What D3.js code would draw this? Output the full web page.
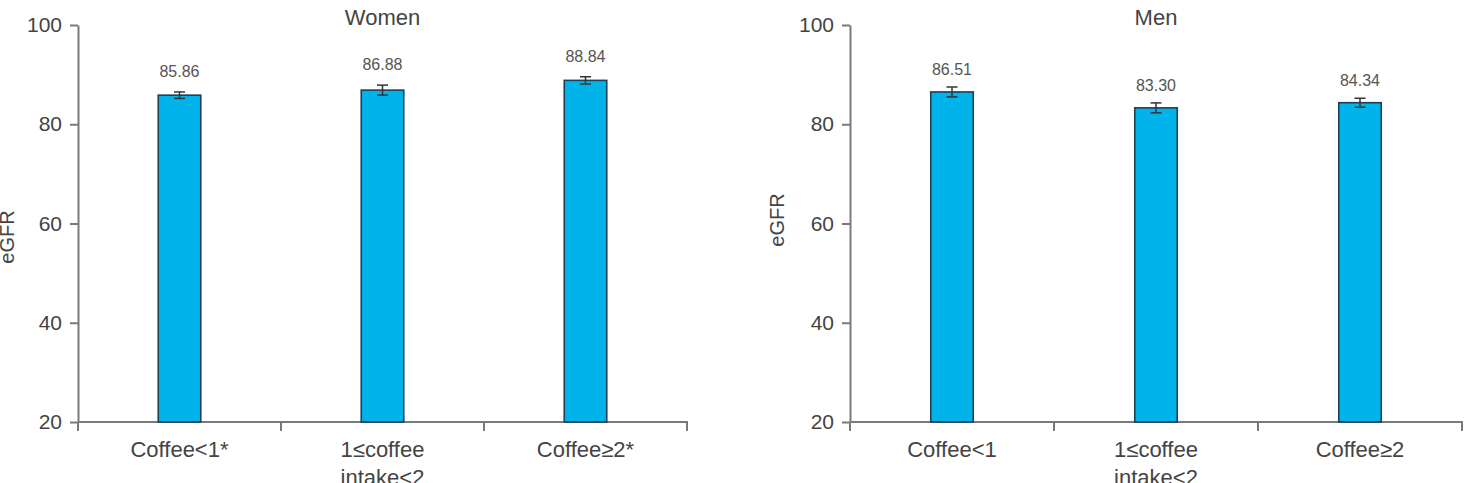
<!DOCTYPE html>
<html>
<head>
<meta charset="utf-8">
<script src="https://cdn.jsdelivr.net/npm/d3@7"></script>
<style>
  html, body { margin: 0; padding: 0; background: #fff; }
  svg { display: block; font-family: "Liberation Sans", Arial, sans-serif; }
</style>
</head>
<body>
<svg id="chart" width="1468" height="483"></svg>
<script>
// ---- data ----
const womenCategories = ["Coffee<1*", "1≤coffee|intake<2", "Coffee≥2*"];
const womenValues = [85.86, 86.88, 88.84];
const womenErrors = [0.65, 1.0, 0.73];
const menCategories = ["Coffee<1", "1≤coffee|intake<2", "Coffee≥2"];
const menValues = [86.51, 83.30, 84.34];
const menErrors = [1.0, 1.0, 0.9];
const yTicks = [20, 40, 60, 80, 100];
const titles = ["Women", "Men"];
const yLabel = "eGFR";

const svg = d3.select("#chart");
const axisColor = "#7a7a7a";
const textColor = "#444";

function drawPanel(opts) {
  const { x0, x1, cats, vals, errs, title, labelX, labelY, labelOffset } = opts;
  const yTop = 25, yBot = 422;
  const y = d3.scaleLinear().domain([20, 100]).range([yBot, yTop]);
  const x = d3.scaleBand().domain(cats).range([x0, x1]).paddingInner(0).paddingOuter(0);
  const barW = 42.5;
  const g = svg.append("g");

  // y axis
  const yAxis = g.append("g")
    .attr("transform", `translate(${x0},0)`)
    .call(d3.axisLeft(y).tickValues(yTicks).tickSize(8).tickSizeOuter(0).tickPadding(8).tickFormat(d3.format("d")));
  yAxis.select(".domain").attr("stroke", axisColor).attr("stroke-width", 2);
  yAxis.selectAll(".tick line").attr("stroke", axisColor).attr("stroke-width", 2);
  yAxis.selectAll(".tick text").attr("fill", textColor).style("font-size", "21px");

  // x axis line
  g.append("line")
    .attr("x1", x0).attr("x2", x1 + 1).attr("y1", yBot).attr("y2", yBot)
    .attr("stroke", axisColor).attr("stroke-width", 2);
  // boundary ticks
  const bounds = d3.range(cats.length + 1).map(i => x0 + i * x.step());
  g.selectAll(".bt").data(bounds).join("line")
    .attr("x1", d => d).attr("x2", d => d)
    .attr("y1", yBot).attr("y2", yBot + 9)
    .attr("stroke", axisColor).attr("stroke-width", 2);

  // x labels
  const xl = g.selectAll(".xl").data(cats).join("text")
    .attr("text-anchor", "middle")
    .attr("fill", textColor)
    .style("font-size", "22px")
    .attr("x", d => x(d) + x.bandwidth() / 2)
    .attr("y", 457);
  xl.each(function(d) {
    const parts = d.split("|");
    const t = d3.select(this);
    parts.forEach((p, i) => {
      t.append("tspan").attr("x", x(d) + x.bandwidth() / 2).attr("dy", i === 0 ? 0 : 28).text(p);
    });
  });

  // bars
  g.selectAll(".bar").data(vals).join("rect")
    .attr("x", (d, i) => x(cats[i]) + x.bandwidth() / 2 - barW / 2)
    .attr("width", barW)
    .attr("y", d => y(d))
    .attr("height", d => y(20) - y(d))
    .attr("fill", "#00b4eb")
    .attr("stroke", "#1f3f52")
    .attr("stroke-width", 1.6);

  // error bars
  const capW = 11;
  vals.forEach((v, i) => {
    const cx = x(cats[i]) + x.bandwidth() / 2;
    const e = errs[i];
    g.append("line").attr("x1", cx).attr("x2", cx).attr("y1", y(v + e)).attr("y2", y(v - e))
      .attr("stroke", "#333").attr("stroke-width", 1.5);
    [v + e, v - e].forEach(yy => {
      g.append("line").attr("x1", cx - capW / 2).attr("x2", cx + capW / 2)
        .attr("y1", y(yy)).attr("y2", y(yy))
        .attr("stroke", "#333").attr("stroke-width", 1.5);
    });
    g.append("text")
      .attr("x", cx).attr("y", y(v + e) - labelOffset)
      .attr("text-anchor", "middle").attr("fill", "#555")
      .style("font-size", "16px")
      .text(d3.format(".2f")(v));
  });

  // title
  g.append("text")
    .attr("x", (x0 + x1) / 2).attr("y", 25)
    .attr("text-anchor", "middle").attr("fill", textColor)
    .style("font-size", "22px")
    .text(title);

  // y label
  g.append("text")
    .attr("transform", `translate(${labelX},${labelY}) rotate(-90)`)
    .attr("text-anchor", "middle").attr("fill", textColor)
    .style("font-size", "20px")
    .text(yLabel);
}

drawPanel({ x0: 78, x1: 687, cats: womenCategories, vals: womenValues, errs: womenErrors,
  title: titles[0], labelX: 14, labelY: 237, labelOffset: 15 });
drawPanel({ x0: 850, x1: 1462, cats: menCategories, vals: menValues, errs: menErrors,
  title: titles[1], labelX: 784, labelY: 220, labelOffset: 12 });
</script>
</body>
</html>
